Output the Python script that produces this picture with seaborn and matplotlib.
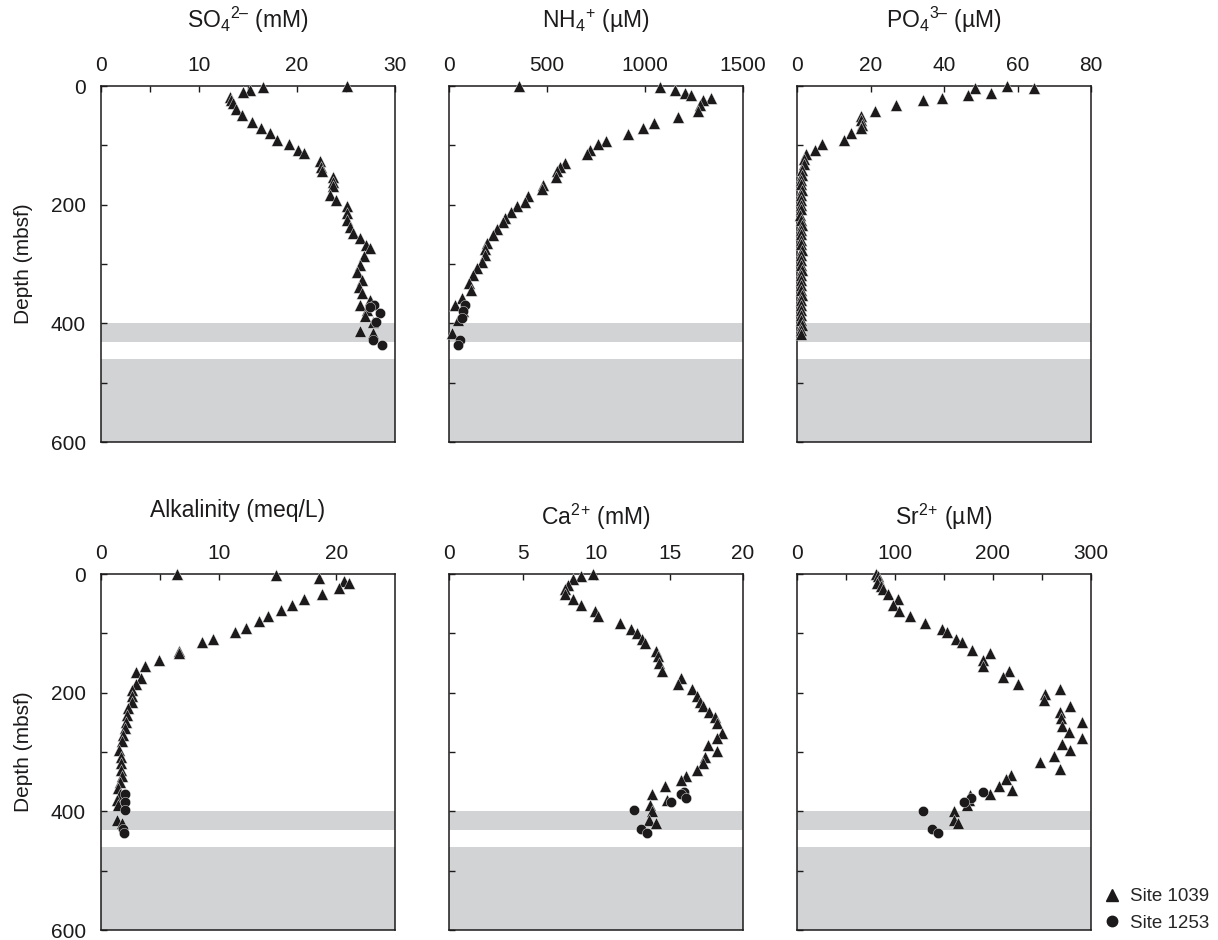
import numpy as np
import pandas as pd
import matplotlib
matplotlib.use('Agg')
import matplotlib.pyplot as plt
from matplotlib.lines import Line2D
import seaborn as sns

sns.set_style('ticks')
plt.rcParams['font.family'] = ['Liberation Sans', 'DejaVu Sans']
plt.rcParams['mathtext.fontset'] = 'custom'
plt.rcParams['mathtext.rm'] = 'Liberation Sans'
plt.rcParams['mathtext.it'] = 'Liberation Sans:italic'
plt.rcParams['mathtext.bf'] = 'Liberation Sans:bold'

# ---- data (value, depth in mbsf) ----
so4_1039 = [25.1, 16.5, 15.2, 14.5, 13.2, 13.3, 13.5, 13.8, 14.4, 15.4, 16.3, 17.2, 18.0, 19.2,
            20.1, 20.7, 22.3, 22.4, 22.5, 23.7, 23.7, 23.7, 23.4, 24.0, 25.1, 25.1, 25.1, 25.4,
            25.7, 26.4, 27.0, 27.4, 26.8, 26.4, 26.1, 26.6, 26.3, 26.6, 27.4, 26.4, 27.1, 26.9,
            27.8, 26.4, 27.8]
so4_1039_d = [0, 2, 6, 10, 18, 24, 29, 38, 49, 60, 70, 80, 91, 98, 108, 113, 127, 136, 144, 153,
              161, 169, 184, 192, 203, 214, 226, 237, 248, 256, 268, 273, 287, 301, 313, 327, 338,
              349, 360, 369, 377, 388, 397, 413, 416]
so4_1253 = [27.9, 27.4, 28.5, 28.1, 27.8, 28.7]
so4_1253_d = [369, 372, 383, 397, 428, 436]

nh4_1039 = [358, 1079, 1152, 1203, 1237, 1339, 1296, 1279, 1271, 1169, 1045, 991, 914, 800, 761,
            719, 702, 591, 566, 552, 545, 480, 472, 404, 387, 348, 317, 288, 277, 243, 226, 192,
            183, 183, 166, 141, 120, 104, 110, 65, 31, 73, 48, 14]
nh4_1039_d = [0, 1, 6, 11, 15, 21, 24, 32, 42, 52, 62, 70, 81, 92, 98, 108, 114, 129, 136, 144,
              154, 167, 174, 186, 195, 203, 213, 223, 230, 241, 251, 265, 275, 284, 296, 307, 318,
              332, 343, 357, 369, 380, 394, 416]
nh4_1253 = [82, 73, 65, 56, 48]
nh4_1253_d = [369, 380, 391, 428, 436]

po4_1039 = [57.2, 48.5, 64.5, 52.7, 46.5, 39.4, 34.2, 26.9, 21.1, 17.3, 17.4, 17.6, 17.4, 14.7,
            12.9, 6.9, 4.8, 2.4, 1.8, 1.8, 1.4, 1.3, 1.2, 1.1, 1.3, 1.2, 1.0, 1.1, 1.2, 0.9, 1.1,
            1.3, 1.2, 1.0, 1.2, 1.1, 1.3, 1.2, 1.0, 1.1, 1.3, 1.2, 1.1, 1.0, 1.2, 1.3, 1.1, 1.2,
            1.0, 1.1, 1.2, 1.3, 1.0, 1.2]
po4_1039_d = [0, 3, 4, 11, 15, 20, 24, 32, 42, 51, 58, 66, 71, 80, 91, 98, 108, 114, 123, 132,
              141, 150, 158, 166, 175, 183, 192, 200, 208, 217, 225, 234, 242, 250, 259, 267, 276,
              284, 293, 301, 310, 318, 327, 335, 344, 352, 361, 369, 378, 386, 395, 403, 412, 418]

alk_1039 = [6.5, 14.9, 18.5, 20.7, 21.1, 20.2, 18.8, 17.3, 16.2, 15.3, 14.2, 13.4, 12.3, 11.4,
            9.5, 8.6, 6.6, 6.6, 4.9, 3.75, 3.0, 3.4, 3.0, 2.6, 2.6, 2.6, 2.3, 2.2, 2.1, 2.0, 1.9,
            1.76, 1.56, 1.67, 1.67, 1.67, 1.76, 1.6, 1.48, 1.6, 1.39, 1.48, 1.34, 1.76]
alk_1039_d = [0, 1, 6, 12, 15, 24, 34, 42, 52, 61, 70, 80, 91, 98, 110, 115, 130, 133, 145, 155,
              166, 175, 185, 195, 205, 215, 226, 237, 249, 260, 271, 282, 296, 308, 319, 330, 341,
              350, 361, 370, 381, 389, 415, 420]
alk_1253 = [2.05, 2.05, 2.05, 1.9, 1.96]
alk_1253_d = [370, 384, 398, 429, 437]

ca_1039 = [9.8, 9.0, 8.45, 8.1, 7.9, 7.9, 8.45, 9.0, 9.9, 10.15, 11.6, 12.4, 12.8, 13.1, 13.3,
           14.1, 14.2, 14.3, 14.5, 15.8, 15.6, 16.5, 16.9, 17.05, 17.3, 17.7, 18.1, 18.2, 18.6,
           18.2, 17.6, 18.2, 17.4, 17.3, 16.9, 16.1, 15.8, 14.7, 13.8, 14.8, 13.7, 13.8, 13.6,
           14.1]
ca_1039_d = [0, 3, 8, 18, 26, 34, 42, 52, 63, 71, 82, 93, 100, 110, 116, 129, 139, 150, 164, 175,
             185, 194, 205, 215, 223, 232, 241, 251, 268, 277, 288, 299, 308, 319, 330, 340, 348,
             358, 370, 381, 389, 400, 415, 420]
ca_1253 = [16.0, 15.8, 16.1, 15.1, 12.6, 13.05, 13.5]
ca_1253_d = [368, 370, 378, 385, 398, 430, 436]

sr_1039 = [81, 83, 84, 82, 86, 88, 92.5, 103, 97.6, 104, 115, 131, 148, 153, 162, 168, 179, 197,
           190, 190, 216, 210, 226, 268, 253, 252, 279, 268, 269, 291, 270, 278, 291, 270, 279,
           262, 248, 268, 218, 213, 206, 219, 197, 177, 175, 173, 160, 160, 164]
sr_1039_d = [0, 4, 10, 15, 20, 26, 34, 42, 52, 62, 71, 82, 93, 98, 110, 115, 128, 133, 145, 155,
             164, 174, 185, 194, 203, 213, 223, 232, 243, 250, 257, 267, 276, 286, 297, 306, 317,
             329, 338, 346, 357, 364, 371, 372, 381, 389, 399, 415, 420]
sr_1253 = [190, 178, 170, 129, 138, 144]
sr_1253_d = [368, 378, 384, 399, 430, 437]

titles = ['SO$_4$$^{2–}$ (mM)', 'NH$_4$$^{+}$ (µM)', 'PO$_4$$^{3–}$ (µM)',
          'Alkalinity (meq/L)', 'Ca$^{2}$$^{+}$ (mM)', 'Sr$^{2}$$^{+}$ (µM)']
xlims = [30, 1500, 80, 25, 20, 300]
major_ticks = [[0, 10, 20, 30], [0, 500, 1000, 1500], [0, 20, 40, 60, 80],
               [0, 10, 20], [0, 5, 10, 15, 20], [0, 100, 200, 300]]
minor_ticks = [[5, 15, 25], [], [], [5, 15], [], [50, 150, 250]]
depth_ticks = [0, 100, 200, 300, 400, 500, 600]
depth_labels = ['0', '', '200', '', '400', '', '600']


def make_df(v1039, d1039, v1253, d1253):
    return pd.DataFrame({
        'value': list(v1039) + list(v1253),
        'depth': list(d1039) + list(d1253),
        'site': ['Site 1039'] * len(v1039) + ['Site 1253'] * len(v1253),
    })


frames = [
    make_df(so4_1039, so4_1039_d, so4_1253, so4_1253_d),
    make_df(nh4_1039, nh4_1039_d, nh4_1253, nh4_1253_d),
    make_df(po4_1039, po4_1039_d, [], []),
    make_df(alk_1039, alk_1039_d, alk_1253, alk_1253_d),
    make_df(ca_1039, ca_1039_d, ca_1253, ca_1253_d),
    make_df(sr_1039, sr_1039_d, sr_1253, sr_1253_d),
]

band = '#d1d3d4'
ink = '#1c1a1b'
W, H = 1218, 940
fig = plt.figure(figsize=(W / 100, H / 100), dpi=100)

lefts = [101, 449, 797]
tops = [86, 574]
title_base = [[28, 28, 28], [517, 525, 525]]
title_x = [[0.5, 0.5, 0.5], [0.463, 0.5, 0.5]]

for i, df in enumerate(frames):
    r, c = divmod(i, 3)
    ax = fig.add_axes([lefts[c] / W, 1 - (tops[r] + 356) / H, 294 / W, 356 / H])
    ax.axhspan(400, 432, color=band, lw=0, zorder=0)
    ax.axhspan(460, 600, color=band, lw=0, zorder=0)
    for site, mk, ms in [('Site 1039', '^', 72), ('Site 1253', 'o', 55)]:
        sub = df[df['site'] == site]
        if len(sub):
            sns.scatterplot(data=sub, x='value', y='depth', marker=mk, s=ms, color=ink,
                            edgecolor='white', linewidth=0.3, ax=ax, clip_on=False,
                            zorder=3, legend=False)
    ax.set_xlim(0, xlims[i])
    ax.set_ylim(600, 0)
    ax.xaxis.tick_top()
    ax.set_xticks(major_ticks[i])
    ax.set_xticks(minor_ticks[i], minor=True)
    ax.set_xticklabels([str(t) for t in major_ticks[i]])
    ax.tick_params(axis='x', which='both', direction='in', length=4.5, width=1,
                   top=True, bottom=False, labeltop=True, labelbottom=False,
                   labelsize=15, pad=8, colors=ink)
    ax.set_yticks(depth_ticks)
    ax.tick_params(axis='y', which='both', direction='in', length=4.5, width=1,
                   labelsize=15, pad=11, colors=ink)
    if c == 0:
        ax.set_yticklabels(depth_labels)
        ax.set_ylabel('Depth (mbsf)', fontsize=15, labelpad=13, color=ink)
    else:
        ax.set_yticklabels([])
        ax.set_ylabel('')
    ax.set_xlabel('')
    for sp in ax.spines.values():
        sp.set_linewidth(1.1)
        sp.set_color(ink)
        sp.set_visible(True)
    ty = 1 + (tops[r] - title_base[r][c]) / 356
    ax.text(title_x[r][c], ty, titles[i], transform=ax.transAxes, ha='center',
            va='baseline', fontsize=16.5, color=ink)

handles = [Line2D([], [], marker='^', ls='', color=ink, markersize=9, label='Site 1039'),
           Line2D([], [], marker='o', ls='', color=ink, markersize=7.5, label='Site 1253')]
fig.legend(handles=handles, loc='center left', bbox_to_anchor=(1101 / W, 1 - 910 / H),
           frameon=False, fontsize=13.5, handletextpad=0.35, labelspacing=0.5,
           handlelength=1.2, borderpad=0, borderaxespad=0)

fig.savefig('out.png', dpi=100)
